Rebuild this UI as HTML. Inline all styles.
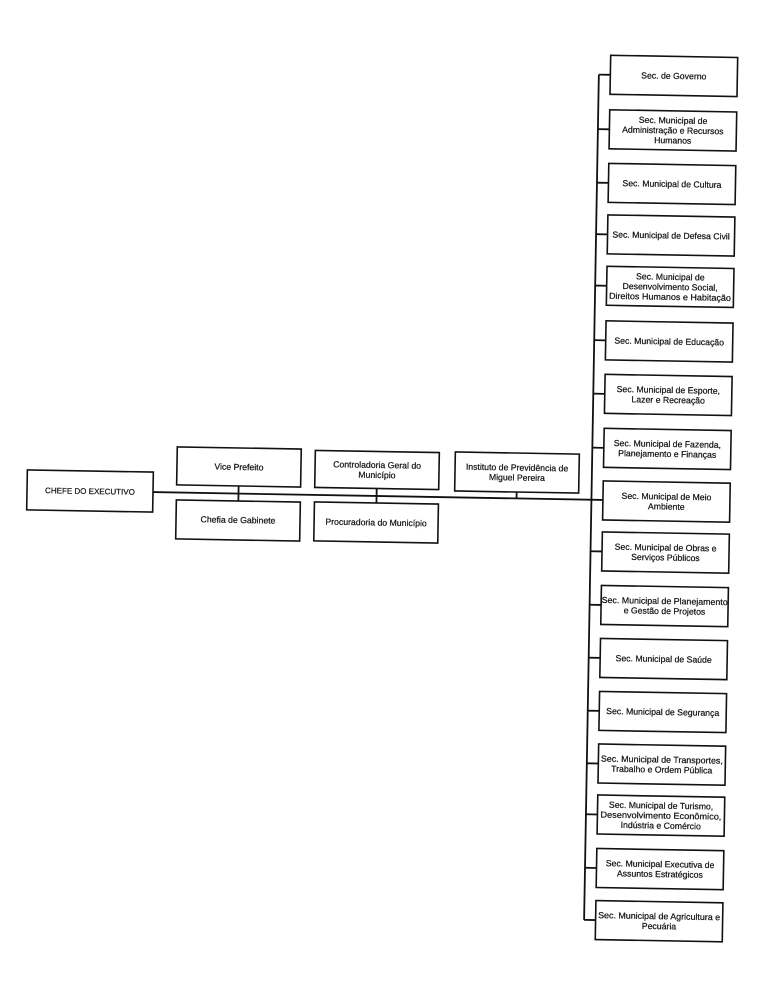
<!DOCTYPE html>
<html>
<head>
<meta charset="utf-8">
<style>
  html, body { margin: 0; padding: 0; background: #ffffff; }
  body { width: 778px; height: 989px; overflow: hidden; }
  svg { display: block; }
  text { font-family: "Liberation Sans", "DejaVu Sans", sans-serif; font-size: 8.7px; fill: #111; stroke: #111; stroke-width: 0.22; text-anchor: middle; }
</style>
</head>
<body>
<svg width="778" height="989" viewBox="0 0 778 989" xmlns="http://www.w3.org/2000/svg">
  <rect x="0" y="0" width="778" height="989" fill="#ffffff"/>
  <g transform="rotate(1 389 494)">
    <!-- connector lines -->
    <g stroke="#111" stroke-width="1.8" fill="none">
      <line x1="153" y1="496.2" x2="603" y2="496.2"/>
      <line x1="238.5" y1="488.6" x2="238.5" y2="503.6"/>
      <line x1="376.6" y1="488.7" x2="376.6" y2="503.2"/>
      <line x1="516.6" y1="489.8" x2="516.6" y2="496.2"/>
      <line x1="591.5" y1="71" x2="591.5" y2="916.4"/>
      <line x1="591.5" y1="71" x2="603" y2="71"/>
      <line x1="591.5" y1="125.5" x2="603" y2="125.5"/>
      <line x1="591.5" y1="179.1" x2="603" y2="179.1"/>
      <line x1="591.5" y1="230.6" x2="603" y2="230.6"/>
      <line x1="591.5" y1="282" x2="603" y2="282"/>
      <line x1="591.5" y1="336.6" x2="603" y2="336.6"/>
      <line x1="591.5" y1="390.1" x2="603" y2="390.1"/>
      <line x1="591.5" y1="444.1" x2="603" y2="444.1"/>
      <line x1="591.5" y1="547.7" x2="603" y2="547.7"/>
      <line x1="591.5" y1="601.2" x2="603" y2="601.2"/>
      <line x1="591.5" y1="654.2" x2="603" y2="654.2"/>
      <line x1="591.5" y1="707.2" x2="603" y2="707.2"/>
      <line x1="591.5" y1="759.8" x2="603" y2="759.8"/>
      <line x1="591.5" y1="810.8" x2="603" y2="810.8"/>
      <line x1="591.5" y1="864.3" x2="603" y2="864.3"/>
      <line x1="591.5" y1="916.4" x2="603" y2="916.4"/>
    </g>

    <!-- left boxes -->
    <g stroke="#111" stroke-width="1.6" fill="#fff">
      <rect x="27" y="476.2" width="126" height="40"/>
      <rect x="176.5" y="450.6" width="124" height="38"/>
      <rect x="176.5" y="503.6" width="124" height="39"/>
      <rect x="314.6" y="451.7" width="124" height="37"/>
      <rect x="314.6" y="503.2" width="124" height="39"/>
      <rect x="454.6" y="450.8" width="124" height="39"/>
    </g>

    <!-- right boxes -->
    <g stroke="#111" stroke-width="1.6" fill="#fff">
      <rect x="603" y="51.5" width="127" height="39"/>
      <rect x="603" y="106" width="127" height="39"/>
      <rect x="603" y="159.6" width="127" height="39"/>
      <rect x="603" y="211.1" width="127" height="39"/>
      <rect x="603" y="262.5" width="127" height="39"/>
      <rect x="603" y="317.1" width="127" height="39"/>
      <rect x="603" y="370.6" width="127" height="39"/>
      <rect x="603" y="424.6" width="127" height="39"/>
      <rect x="603" y="477.2" width="127" height="39"/>
      <rect x="603" y="528.2" width="127" height="39"/>
      <rect x="603" y="581.7" width="127" height="39"/>
      <rect x="603" y="634.7" width="127" height="39"/>
      <rect x="603" y="687.7" width="127" height="39"/>
      <rect x="603" y="740.3" width="127" height="39"/>
      <rect x="603" y="791.3" width="127" height="39"/>
      <rect x="603" y="844.8" width="127" height="39"/>
      <rect x="603" y="896.9" width="127" height="39"/>
    </g>

    <!-- left texts -->
    <text x="90" y="499.2" style="font-size:8px">CHEFE DO EXECUTIVO</text>
    <text x="238.5" y="472.6">Vice Prefeito</text>
    <text x="238.5" y="525.6">Chefia de Gabinete</text>
    <text x="376.6" y="468.2">Controladoria Geral do</text>
    <text x="376.6" y="478.2">Município</text>
    <text x="376.6" y="525.7">Procuradoria do Município</text>
    <text x="516.6" y="468.3">Instituto de Previdência de</text>
    <text x="516.6" y="478.3">Miguel Pereira</text>

    <!-- right texts -->
    <text x="666.5" y="74">Sec. de Governo</text>

    <text x="666.5" y="118.5">Sec. Municipal de</text>
    <text x="666.5" y="128.5">Administração e Recursos</text>
    <text x="666.5" y="138.5">Humanos</text>

    <text x="666.5" y="182.1">Sec. Municipal de Cultura</text>

    <text x="666.5" y="233.6">Sec. Municipal de Defesa Civil</text>

    <text x="666.5" y="275">Sec. Municipal de</text>
    <text x="666.5" y="285">Desenvolvimento Social,</text>
    <text x="666.5" y="295" textLength="122" lengthAdjust="spacingAndGlyphs">Direitos Humanos e Habitação</text>

    <text x="666.5" y="339.6">Sec. Municipal de Educação</text>

    <text x="666.5" y="388.1">Sec. Municipal de Esporte,</text>
    <text x="666.5" y="398.1">Lazer e Recreação</text>

    <text x="666.5" y="442.1">Sec. Municipal de Fazenda,</text>
    <text x="666.5" y="452.1">Planejamento e Finanças</text>

    <text x="666.5" y="494.7">Sec. Municipal de Meio</text>
    <text x="666.5" y="504.7">Ambiente</text>

    <text x="666.5" y="545.7">Sec. Municipal de Obras e</text>
    <text x="666.5" y="555.7">Serviços Públicos</text>

    <text x="666.5" y="599.2" textLength="126" lengthAdjust="spacingAndGlyphs">Sec. Municipal de Planejamento</text>
    <text x="666.5" y="609.2">e Gestão de Projetos</text>

    <text x="666.5" y="657.2">Sec. Municipal de Saúde</text>

    <text x="666.5" y="710.2">Sec. Municipal de Segurança</text>

    <text x="666.5" y="757.8" textLength="122" lengthAdjust="spacingAndGlyphs">Sec. Municipal de Transportes,</text>
    <text x="666.5" y="767.8">Trabalho e Ordem Pública</text>

    <text x="666.5" y="803.8">Sec. Municipal de Turismo,</text>
    <text x="666.5" y="813.8" textLength="121" lengthAdjust="spacingAndGlyphs">Desenvolvimento Econômico,</text>
    <text x="666.5" y="823.8">Indústria e Comércio</text>

    <text x="666.5" y="862.3">Sec. Municipal Executiva de</text>
    <text x="666.5" y="872.3">Assuntos Estratégicos</text>

    <text x="666.5" y="914.4" textLength="122" lengthAdjust="spacingAndGlyphs">Sec. Municipal de Agricultura e</text>
    <text x="666.5" y="924.4">Pecuária</text>
  </g>
</svg>
</body>
</html>
